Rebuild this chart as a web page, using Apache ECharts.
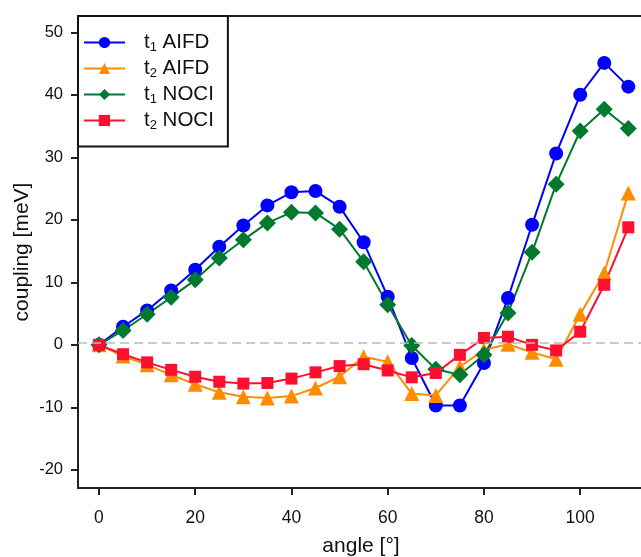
<!DOCTYPE html>
<html>
<head>
<meta charset="utf-8">
<script src="https://cdn.jsdelivr.net/npm/echarts@6/dist/echarts.min.js"></script>
<style>
  html, body { margin: 0; padding: 0; background: #fff; }
  #chart { width: 641px; height: 557px; }
</style>
</head>
<body>
<div id="chart"></div>
<script>
// angle values [°]
var angles = [0, 5, 10, 15, 20, 25, 30, 35, 40, 45, 50, 55, 60, 65, 70, 75, 80, 85, 90, 95, 100, 105, 110];

// couplings [meV]
var t1AIFD = [0, 2.9, 5.5, 8.7, 12.0, 15.7, 19.1, 22.3, 24.4, 24.6, 22.1, 16.4, 7.7, -2.1, -9.7, -9.7, -2.9, 7.5, 19.2, 30.6, 40.0, 45.1, 41.3];
var t2AIFD = [0, -1.8, -3.2, -4.8, -6.3, -7.6, -8.3, -8.5, -8.2, -6.9, -5.1, -1.9, -2.7, -7.8, -8.1, -3.5, -0.8, 0.1, -1.2, -2.3, 4.9, 11.5, 24.3];
var t1NOCI = [0, 2.3, 4.9, 7.6, 10.4, 13.9, 16.8, 19.5, 21.2, 21.1, 18.5, 13.3, 6.4, -0.1, -3.9, -4.8, -1.6, 5.1, 14.8, 25.7, 34.2, 37.7, 34.6];
var t2NOCI = [0, -1.5, -2.8, -4.0, -5.1, -5.9, -6.2, -6.1, -5.4, -4.4, -3.4, -3.1, -4.1, -5.2, -4.5, -1.6, 1.1, 1.3, 0, -0.9, 2.1, 9.6, 18.8];

var xTicks = [0, 20, 40, 60, 80, 100];
var yTicks = [-20, -10, 0, 10, 20, 30, 40, 50];

function pairs(ys) {
    return angles.map(function (a, i) { return [a, ys[i]]; });
}

var font = 'Liberation Sans, Arial, sans-serif';
var axisColor = '#222';

var myChart = echarts.init(document.getElementById('chart'));

function lineSeries(name, data, color, symbol, size) {
    return {
        name: name,
        type: 'line',
        data: pairs(data),
        symbol: symbol,
        symbolSize: size,
        showAllSymbol: true,
        lineStyle: { color: color, width: 2 },
        itemStyle: { color: color },
        emphasis: { disabled: true }
    };
}

var option = {
    animation: false,
    backgroundColor: '#fff',
    grid: {
        left: 78, top: 16, right: -3, bottom: 69,
        outerBoundsMode: 'none',
        show: true, borderColor: axisColor, borderWidth: 2
    },
    legend: {
        left: 78, top: 16,
        orient: 'vertical',
        backgroundColor: '#fff',
        borderColor: '#111', borderWidth: 2, borderRadius: 0,
        padding: [16, 14, 15, 5],
        itemWidth: 41, itemHeight: 14, itemGap: 4.5,
        textStyle: {
            fontFamily: font, color: '#111',
            rich: {
                t: { fontSize: 20.5, fontFamily: font, color: '#111', lineHeight: 22, padding: [0, 0, 0, 14] },
                s: { fontSize: 13, fontFamily: font, color: '#111', lineHeight: 13, verticalAlign: 'bottom' },
                n: { fontSize: 20.5, fontFamily: font, color: '#111', lineHeight: 22 }
            }
        },
        formatter: function (name) {
            var p = name.split(' ');
            return '{t|t}{s|' + p[0].slice(1) + '}{n| ' + p[1] + '}';
        },
        data: ['t1 AIFD', 't2 AIFD', 't1 NOCI', 't2 NOCI']
    },
    xAxis: {
        type: 'value',
        min: -4.36, max: 113.26,
        name: 'angle [°]',
        nameLocation: 'middle',
        nameGap: 48,
        nameTextStyle: { fontFamily: font, fontSize: 21, color: '#111' },
        axisLine: { show: true, onZero: false, lineStyle: { color: axisColor, width: 2 } },
        axisTick: { show: true, length: 7, lineStyle: { color: axisColor, width: 2 }, customValues: xTicks },
        axisLabel: { fontFamily: font, fontSize: 17.5, color: '#111', margin: 21, customValues: xTicks },
        splitLine: { show: false }
    },
    yAxis: {
        type: 'value',
        min: -22.9, max: 52.6,
        name: 'coupling [meV]',
        nameLocation: 'middle',
        nameGap: 45,
        nameMoveOverlap: false,
        nameTextStyle: { fontFamily: font, fontSize: 21, color: '#111' },
        axisLine: { show: true, onZero: false, lineStyle: { color: axisColor, width: 2 } },
        axisTick: { show: true, length: 7, lineStyle: { color: axisColor, width: 2 }, customValues: yTicks },
        axisLabel: { fontFamily: font, fontSize: 16.5, color: '#111', margin: 15, customValues: yTicks },
        splitLine: { show: false }
    },
    series: [
        {
            // grey dashed guide line
            type: 'line',
            data: [],
            z: 1,
            silent: true,
            markLine: {
                silent: true,
                symbol: 'none',
                label: { show: false },
                lineStyle: { color: '#bbb', type: [9, 5], width: 1.5 },
                data: [{ yAxis: 0.4 }]
            }
        },
        lineSeries('t1 AIFD', t1AIFD, '#0000FF', 'circle', 14),
        lineSeries('t2 AIFD', t2AIFD, '#FF8C00', 'triangle', 15),
        lineSeries('t1 NOCI', t1NOCI, '#007A2E', 'diamond', 17),
        lineSeries('t2 NOCI', t2NOCI, '#FF0F2F', 'rect', 12)
    ]
};

myChart.setOption(option);
window.addEventListener('resize', function () {
    myChart.resize();
});
</script>
</body>
</html>
